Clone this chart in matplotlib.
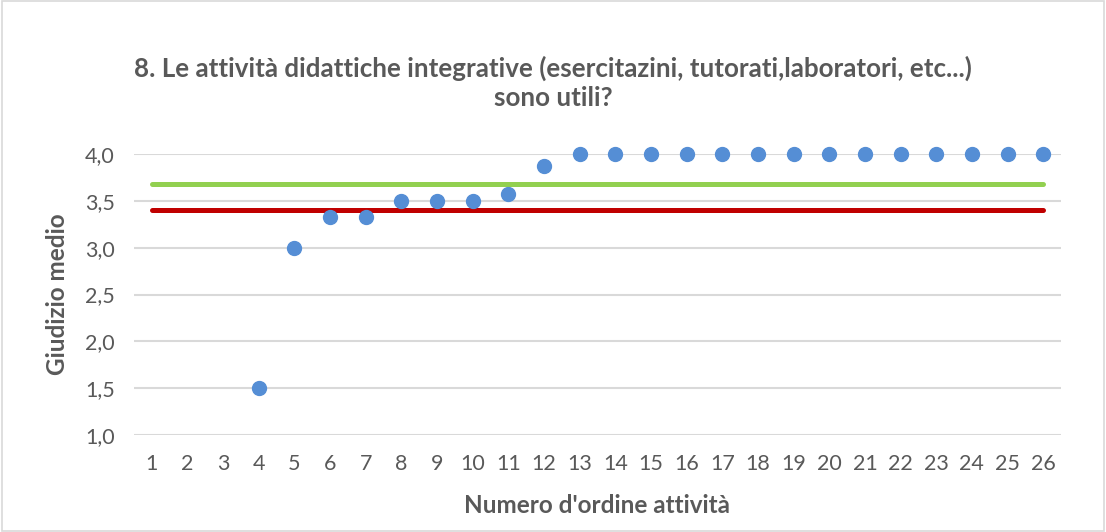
import numpy as np
import matplotlib.pyplot as plt

# dati
attivita = list(range(4, 27))
giudizio = [1.5, 3.0, 3.33, 3.33, 3.5, 3.5, 3.5, 3.57, 3.875] + [4.0] * 14
media_verde = 3.68
media_rossa = 3.40
x_linee = [1, 26]
x_ticks = list(range(1, 27))
y_ticks = [1.0, 1.5, 2.0, 2.5, 3.0, 3.5, 4.0]
y_labels = ["1,0", "1,5", "2,0", "2,5", "3,0", "3,5", "4,0"]

plt.rcParams['font.family'] = ['Lato', 'DejaVu Sans']
grigio = "#595959"

fig = plt.figure(figsize=(11.06, 5.32), dpi=100)
ax = fig.add_axes([134 / 1106, 1 - 435 / 532, (1061 - 134) / 1106, (435 - 154) / 532])

ax.plot(x_linee, [media_verde] * 2, color="#92D050", lw=3.6, solid_capstyle="round", zorder=2)
ax.plot(x_linee, [media_rossa] * 2, color="#C00000", lw=3.6, solid_capstyle="round", zorder=2)
ax.plot(attivita, giudizio, "o", color="#558ED5", ms=10, zorder=3, clip_on=False)

ax.set_xlim(0.5, 26.5)
ax.set_ylim(1.0, 4.0)
ax.set_xticks(x_ticks)
ax.set_xticklabels([str(v) for v in x_ticks])
ax.set_yticks(y_ticks)
ax.set_yticklabels(y_labels)
ax.grid(axis="y", color="#D9D9D9", lw=1.5, zorder=0)
ax.set_axisbelow(True)
ax.tick_params(axis="x", length=0, labelsize=15.5, labelcolor=grigio, pad=14)
ax.tick_params(axis="y", length=0, labelsize=15.5, labelcolor=grigio, pad=14)
for s in ax.spines.values():
    s.set_visible(False)

ax.set_xlabel("Numero d'ordine attività", fontsize=17.5, fontweight="bold", color=grigio, labelpad=14)
ax.set_ylabel("Giudizio medio", fontsize=17.5, fontweight="bold", color=grigio, labelpad=11)
fig.text(0.5, 0.845, "8. Le attività didattiche integrative (esercitazini, tutorati,laboratori, etc...)\nsono utili?",
         ha="center", va="center", fontsize=18.7, fontweight="bold", color=grigio, linespacing=1.25)

fig.patches.append(plt.Rectangle((0.002, 0.002), 0.996, 0.996, transform=fig.transFigure,
                                 fill=False, edgecolor="#D9D9D9", lw=1.2))

fig.savefig("out.png", dpi=100)
